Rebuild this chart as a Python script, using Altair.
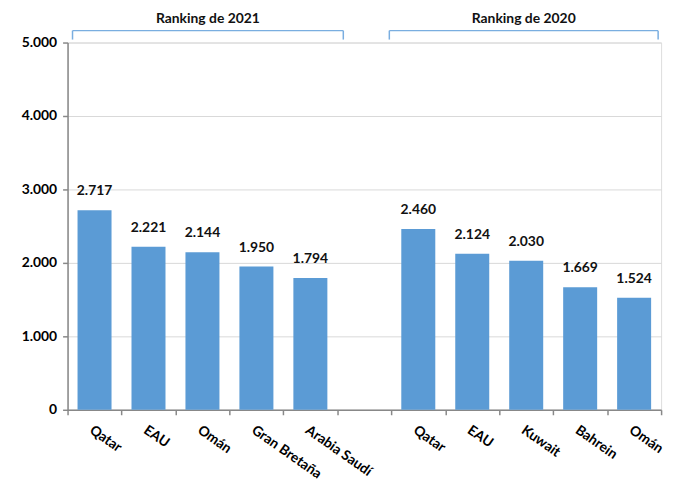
import altair as alt
import pandas as pd

countries_2021 = ["Qatar", "EAU", "Omán", "Gran Bretaña", "Arabia Saudí"]
values_2021 = [2717, 2221, 2144, 1950, 1794]
countries_2020 = ["Qatar", "EAU", "Kuwait", "Bahrein", "Omán"]
values_2020 = [2460, 2124, 2030, 1669, 1524]
group_titles = ["Ranking de 2021", "Ranking de 2020"]

rows = []
for c, v in zip(countries_2021, values_2021):
    rows.append({"key": c + "|a", "value": v})
rows.append({"key": " |gap", "value": None})
for c, v in zip(countries_2020, values_2020):
    rows.append({"key": c + "|b", "value": v})
df = pd.DataFrame(rows)
order = list(df["key"])

W, H = 598, 370
FONT = "Lato"
BLUE = "#5B9BD5"

base = alt.Chart(df)

x = alt.X("key:N", sort=order, title=None,
          scale=alt.Scale(paddingInner=0, paddingOuter=0),
          axis=alt.Axis(labelExpr="split(datum.label, '|')[0]", labelAngle=35,
                        labelAlign="left", labelBaseline="top", labelFont=FONT,
                        labelFontWeight="bold", labelFontSize=14, labelColor="#000",
                        tickBand="extent", tickColor="#888", tickSize=5, tickWidth=1.5,
                        domainColor="#888", domainWidth=1.5, labelPadding=8,
                        grid=False))
y = alt.Y("value:Q", title=None,
          scale=alt.Scale(domain=[0, 5000], nice=False),
          axis=alt.Axis(values=[0, 1000, 2000, 3000, 4000, 5000],
                        labelExpr="replace(format(datum.value, ',.0f'), ',', '.')",
                        labelFont=FONT, labelFontWeight="bold", labelFontSize=14,
                        labelColor="#000", tickColor="#888", tickSize=5,
                        tickWidth=1.5, domainColor="#888", domainWidth=1.5,
                        gridColor="#d9d9d9", gridWidth=1, labelPadding=6))

bars = base.mark_bar(color=BLUE, width=alt.RelativeBandSize(0.63)).encode(x=x, y=y)

labels = base.transform_filter("isValid(datum.value)").transform_calculate(
    lab="replace(format(datum.value, ',.0f'), ',', '.')"
).mark_text(font=FONT, fontWeight="bold", fontSize=14, baseline="bottom",
            dy=-12, color="#111").encode(x=alt.X("key:N", sort=order), y="value:Q",
                                         text="lab:N")

one = alt.Data(values=[{}])
deco = []
for i, (t, a, b) in enumerate([(group_titles[0], 0, 5), (group_titles[1], 6, 11)]):
    if i == 0:
        x1 = W * a / 11 + 5
        x2 = W * b / 11 + 6
    else:
        x1 = W * a / 11 - 2
        x2 = W * b / 11 - 3
    deco.append(alt.Chart(one).mark_rule(color="#7aaee0", strokeWidth=1.5).encode(
        x=alt.value(x1), x2=alt.value(x2), y=alt.value(-12)))
    deco.append(alt.Chart(one).mark_rule(color="#7aaee0", strokeWidth=1.5).encode(
        x=alt.value(x1), y=alt.value(-12), y2=alt.value(-3)))
    deco.append(alt.Chart(one).mark_rule(color="#7aaee0", strokeWidth=1.5).encode(
        x=alt.value(x2), y=alt.value(-12), y2=alt.value(-3)))
    deco.append(alt.Chart(one).mark_text(font=FONT, fontWeight="bold", fontSize=14,
                                         color="#111").encode(
        x=alt.value((x1 + x2) / 2), y=alt.value(-24), text=alt.value(t)))

chart = alt.layer(bars, labels, *deco).properties(
    width=W, height=H, padding={"left": 13, "top": 2, "right": 10, "bottom": 5}
).configure_view(stroke=None).configure(background="white")

chart.save("out.html", embed_options={"renderer": "svg", "actions": False})
